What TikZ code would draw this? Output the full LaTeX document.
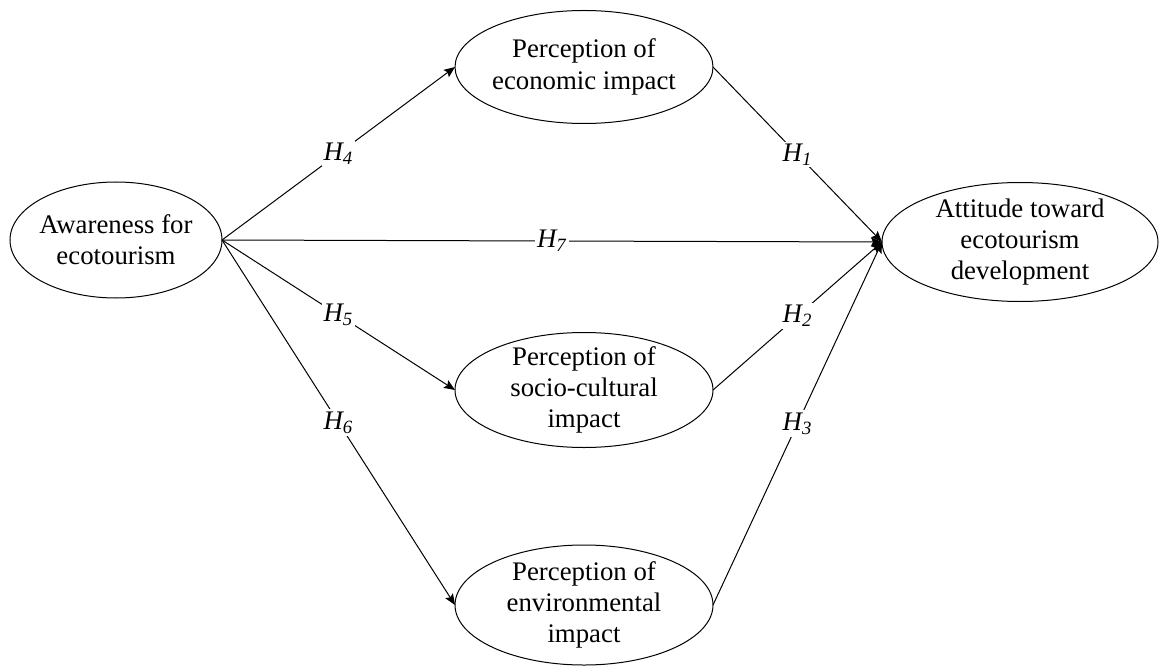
\documentclass[tikz,border=0pt]{standalone}
\usepackage{fontspec}
\setmainfont{Liberation Serif}
\usetikzlibrary{shapes.geometric,arrows.meta}
\begin{document}
\begin{tikzpicture}[x=0.5pt, y=-0.5pt,
  font=\fontsize{13.4}{15.6}\selectfont,
  construct/.style={draw, ellipse, align=center, inner xsep=-2pt, inner ysep=-1.5pt, outer sep=0pt, line width=0.5pt},
  path/.style={line width=0.5pt, -{Stealth[length=5.5pt, width=4.5pt, inset=1pt]}},
  hyp/.style={fill=white, inner sep=1pt, pos=0.5}]
  \useasboundingbox (0,0) rectangle (1159,668);
  % constructs
  \node[construct, minimum width=106pt, minimum height=58pt] (aware) at (116,240) {Awareness for\\ecotourism};
  \node[construct, minimum width=129pt, minimum height=56.5pt] (econ) at (584,67) {Perception of\\economic impact};
  \node[construct, minimum width=129pt, minimum height=57.5pt] (socio) at (584,390) {Perception of\\socio-cultural\\impact};
  \node[construct, minimum width=129pt, minimum height=60pt] (envir) at (584,605) {Perception of\\environmental\\impact};
  \node[construct, minimum width=138pt, minimum height=59.5pt] (attit) at (1020,242) {Attitude toward\\ecotourism\\development};
  % hypotheses
  \foreach \s/\t/\h in {aware/econ/4, aware/socio/5, aware/envir/6}
    \draw[path] (\s.east) -- node[hyp] {\textit{H\textsubscript{\h}}} (\t.west);
  \foreach \s/\h in {econ/1, socio/2, envir/3}
    \draw[path] (\s.east) -- node[hyp] {\textit{H\textsubscript{\h}}} (attit.west);
  \draw[path] (aware.east) -- node[hyp] {\textit{H\textsubscript{7}}} (attit.west);
\end{tikzpicture}
\end{document}
